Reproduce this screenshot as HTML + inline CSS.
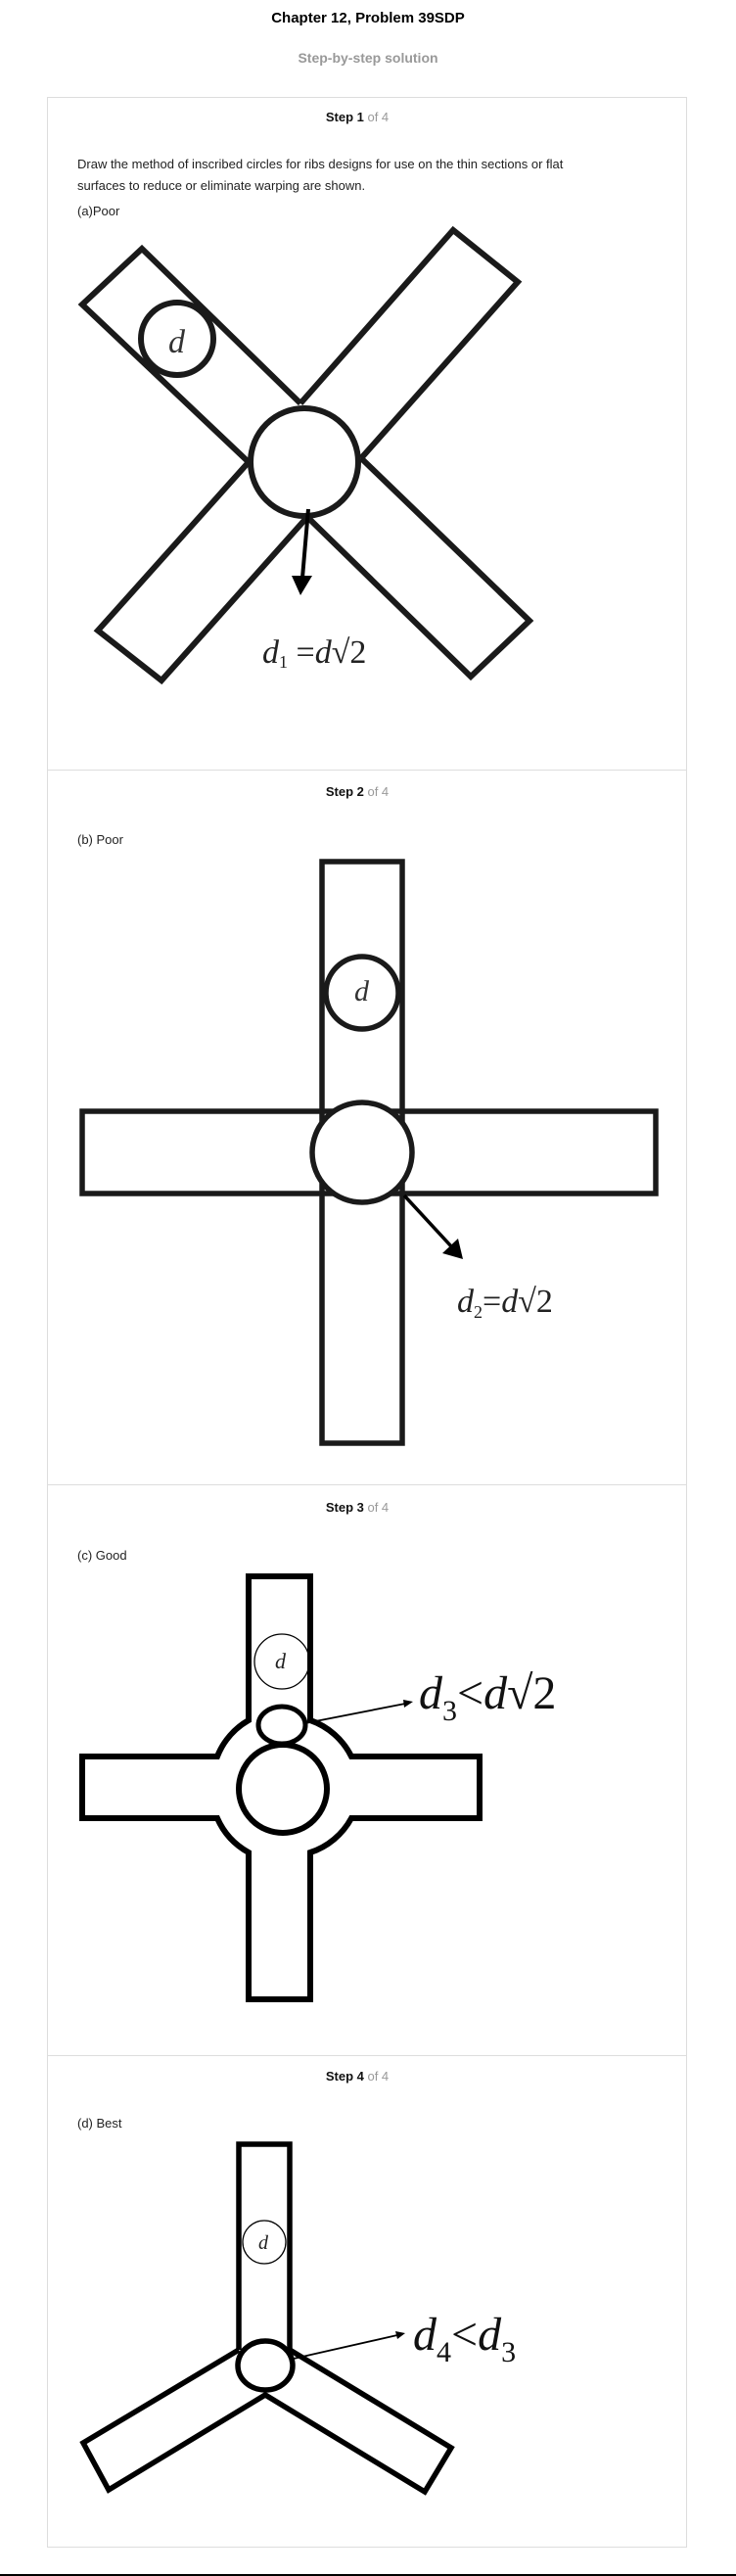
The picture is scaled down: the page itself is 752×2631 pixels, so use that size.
<!DOCTYPE html>
<html><head><meta charset="utf-8"><style>
body{margin:0;width:752px;height:2631px;background:#fff;position:relative;font-family:"Liberation Sans",Arial,sans-serif;overflow:hidden}
.t{position:absolute;white-space:nowrap}
.card{position:absolute;left:48px;width:654px;border:1px solid #ddd;box-sizing:border-box}
.step{position:absolute;left:0;width:730px;text-align:center;font-size:13px;font-weight:bold;color:#111}
.step span{color:#999;font-weight:normal}
.lbl{position:absolute;left:79px;font-size:13px;color:#222}
svg{position:absolute;left:0;top:0}
</style></head><body>
<div class="t" style="left:0;width:752px;top:10px;text-align:center;font-size:15px;font-weight:bold">Chapter 12, Problem 39SDP</div>
<div class="t" style="left:0;width:752px;top:51px;text-align:center;font-size:14px;font-weight:bold;color:#999">Step-by-step solution</div>
<div class="card" style="top:99px;height:688px"></div>
<div class="card" style="top:787px;height:730px;border-top:none"></div>
<div class="card" style="top:1517px;height:583px;border-top:none"></div>
<div class="card" style="top:2100px;height:502px;border-top:none"></div>
<div class="step" style="top:112px">Step 1 <span>of 4</span></div>
<div class="step" style="top:801px">Step 2 <span>of 4</span></div>
<div class="step" style="top:1532px">Step 3 <span>of 4</span></div>
<div class="step" style="top:2113px">Step 4 <span>of 4</span></div>
<div class="lbl" style="top:157px;line-height:22px;white-space:normal;width:548px">Draw the method of inscribed circles for ribs designs for use on the thin sections or flat surfaces to reduce or eliminate warping are shown.</div>
<div class="lbl" style="top:208px">(a)Poor</div>
<div class="lbl" style="top:850px">(b) Poor</div>
<div class="lbl" style="top:1581px">(c) Good</div>
<div class="lbl" style="top:2161px">(d) Best</div>
<svg width="752" height="2631" font-family="'Liberation Serif',serif" font-style="italic">
<g stroke="#1a1a1a" stroke-width="6" fill="none" stroke-linejoin="miter">
<polyline points="307,412 145,254 84,311 254,472"/>
<polyline points="369,468 541,634 481,691 314,528"/>
<polyline points="307,412 463,235 529,288 369,468"/>
<polyline points="254,472 100,644 165,695 314,528"/>
<circle cx="311" cy="472" r="55" fill="#fff"/>
<circle cx="181" cy="346" r="37"/>
<line x1="315" y1="520" x2="309" y2="590" stroke="#000" stroke-width="4"/>
<polygon points="298,588 319,588 307,608" fill="#000" stroke="none"/>
</g>
<text x="172" y="360" font-size="34" fill="#333">d</text>
<text x="268" y="677" font-size="34" fill="#222">d<tspan font-style="normal" font-size="18" dy="5">1</tspan><tspan font-style="normal" dy="-5"> =</tspan>d<tspan font-style="normal">√2</tspan></text>
<g stroke="#1a1a1a" stroke-width="5.5" fill="none">
<rect x="329" y="880" width="82" height="594"/>
<rect x="84" y="1135" width="586" height="84"/>
<rect x="332" y="1138" width="76" height="78" fill="#fff" stroke="none"/>
<circle cx="370" cy="1177" r="51" fill="#fff"/>
<circle cx="370" cy="1014" r="37"/>
<line x1="413" y1="1221" x2="462" y2="1274" stroke="#000" stroke-width="3.5"/>
<polygon points="452,1280 468,1265 473,1286" fill="#000" stroke="none"/>
</g>
<text x="362" y="1022" font-size="30" fill="#333">d</text>
<text x="467" y="1340" font-size="34" fill="#222">d<tspan font-style="normal" font-size="18" dy="6">2</tspan><tspan font-style="normal" dy="-6">=</tspan>d<tspan font-style="normal">√2</tspan></text>
<g stroke="#000" stroke-width="6" fill="none">
<path d="M254,1757 L254,1610 L317,1610 L317,1757 A74,74 0 0 1 359,1794 L490,1794 L490,1857 L359,1857 A74,74 0 0 1 317,1892 L317,2042 L254,2042 L254,1892 A74,74 0 0 1 222,1857 L84,1857 L84,1794 L222,1794 A74,74 0 0 1 254,1757 Z"/>
<circle cx="289" cy="1827" r="45"/>
<ellipse cx="288" cy="1762" rx="24" ry="19" stroke-width="5"/>
<circle cx="288" cy="1697" r="28" stroke-width="1.3"/>
<line x1="312" y1="1760" x2="414" y2="1740" stroke-width="1.8"/>
<polygon points="412,1736 422,1738 413,1744" fill="#000" stroke="none"/>
</g>
<text x="281" y="1704" font-size="22" fill="#222">d</text>
<text x="428" y="1745" font-size="48" fill="#111">d<tspan font-style="normal" font-size="30" dy="12">3</tspan><tspan font-style="normal" dy="-12">&lt;</tspan>d<tspan font-style="normal">√2</tspan></text>
<g stroke="#000" stroke-width="5.5" fill="none" stroke-linejoin="miter">
<polyline points="244,2400 244,2190 296,2190 296,2400"/>
<polyline points="244,2400 85,2495 111,2543 271,2446 434,2545 461,2500 296,2400"/>
<ellipse cx="271" cy="2416" rx="28" ry="25" fill="#fff"/>
<circle cx="270" cy="2290" r="22" stroke-width="1.3"/>
<line x1="300" y1="2409" x2="406" y2="2385" stroke-width="1.8"/>
<polygon points="404,2381 414,2383 406,2389" fill="#000" stroke="none"/>
</g>
<text x="264" y="2297" font-size="20" fill="#222">d</text>
<text x="422" y="2400" font-size="48" fill="#111">d<tspan font-style="normal" font-size="30" dy="12">4</tspan><tspan font-style="normal" dy="-12">&lt;</tspan>d<tspan font-style="normal" font-size="30" dy="12">3</tspan></text>
</svg>
<div style="position:absolute;left:0;top:2629px;width:752px;height:2px;background:#000"></div>
</body></html>
